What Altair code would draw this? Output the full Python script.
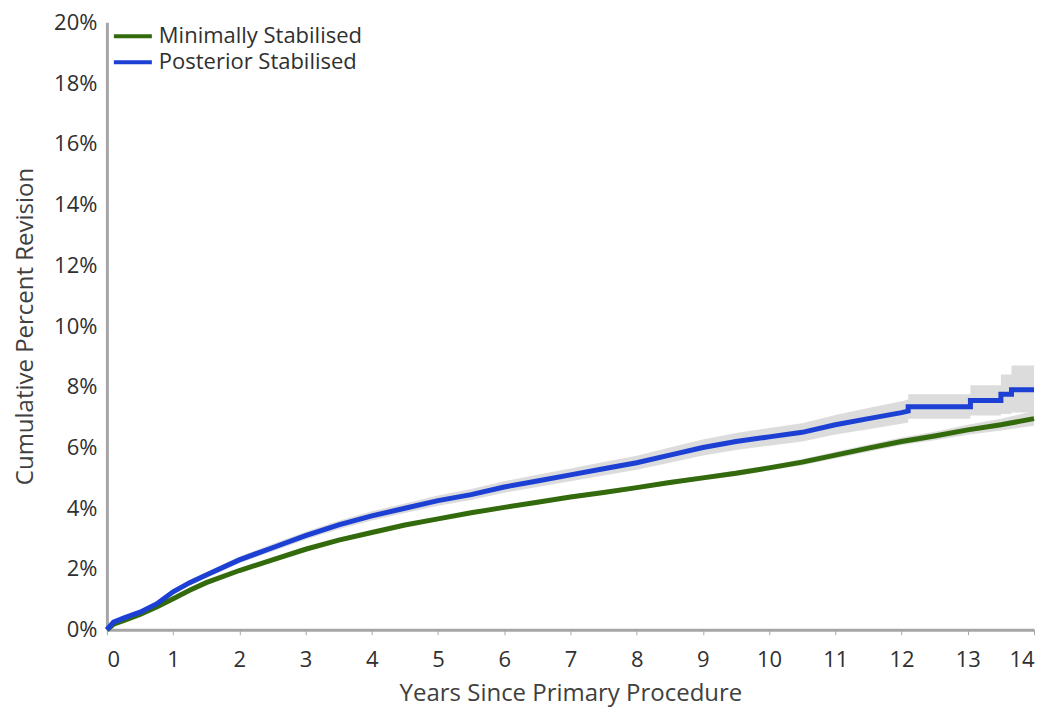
import altair as alt
import pandas as pd

# Years since primary procedure
years_min = [0, 0.1, 0.25, 0.5, 0.75, 1, 1.25, 1.5, 2, 2.5, 3, 3.5, 4, 4.5, 5, 5.5, 6, 6.5, 7,
             7.5, 8, 8.5, 9, 9.5, 10, 10.5, 11, 11.5, 12, 12.5, 13, 13.5, 14]
cpr_min = [0, 0.18, 0.3, 0.5, 0.75, 1.02, 1.3, 1.55, 1.95, 2.3, 2.65, 2.95, 3.2, 3.45, 3.65, 3.85,
           4.03, 4.2, 4.37, 4.52, 4.68, 4.85, 5.0, 5.15, 5.33, 5.52, 5.75, 5.98, 6.2, 6.38, 6.58, 6.75, 6.95]
lo_min = [0, 0.15, 0.26, 0.46, 0.71, 0.97, 1.25, 1.5, 1.9, 2.25, 2.6, 2.9, 3.15, 3.4, 3.6, 3.8,
          3.97, 4.14, 4.31, 4.45, 4.61, 4.77, 4.92, 5.06, 5.24, 5.42, 5.64, 5.86, 6.08, 6.24, 6.42, 6.56, 6.72]
hi_min = [0, 0.21, 0.34, 0.54, 0.79, 1.07, 1.35, 1.6, 2.0, 2.35, 2.7, 3.0, 3.25, 3.5, 3.7, 3.9,
          4.09, 4.26, 4.43, 4.59, 4.75, 4.93, 5.08, 5.24, 5.42, 5.62, 5.86, 6.1, 6.33, 6.52, 6.75, 6.95, 7.2]

years_post = [0, 0.1, 0.25, 0.5, 0.75, 1, 1.25, 1.5, 2, 2.5, 3, 3.5, 4, 4.5, 5, 5.5, 6, 6.5, 7,
              7.5, 8, 8.5, 9, 9.5, 10, 10.5, 11, 11.5, 12, 12.1, 12.1, 13.04, 13.04, 13.5, 13.5,
              13.66, 13.66, 14]
cpr_post = [0, 0.25, 0.38, 0.58, 0.85, 1.25, 1.55, 1.8, 2.3, 2.7, 3.1, 3.45, 3.75, 4.0, 4.25, 4.45,
            4.7, 4.9, 5.1, 5.3, 5.5, 5.75, 6.0, 6.2, 6.35, 6.5, 6.75, 6.95, 7.15, 7.2, 7.34, 7.34,
            7.55, 7.55, 7.75, 7.75, 7.9, 7.9]
lo_post = [0, 0.21, 0.33, 0.52, 0.78, 1.17, 1.46, 1.7, 2.19, 2.58, 2.97, 3.31, 3.6, 3.84, 4.08, 4.27,
           4.51, 4.7, 4.89, 5.08, 5.27, 5.5, 5.74, 5.92, 6.06, 6.2, 6.43, 6.6, 6.78, 6.82, 6.95, 6.95,
           7.05, 7.05, 7.1, 7.1, 7.15, 7.15]
hi_post = [0, 0.29, 0.43, 0.64, 0.92, 1.33, 1.64, 1.9, 2.41, 2.82, 3.23, 3.59, 3.9, 4.16, 4.42, 4.63,
           4.89, 5.1, 5.31, 5.52, 5.73, 6.0, 6.26, 6.48, 6.64, 6.8, 7.07, 7.3, 7.52, 7.58, 7.75, 7.75,
           8.05, 8.05, 8.4, 8.4, 8.7, 8.7]

series = ["Minimally Stabilised", "Posterior Stabilised"]
colors = ["#336a0c", "#1c3fd4"]

rows = []
for s, xs, ys, los, his in [(series[0], years_min, cpr_min, lo_min, hi_min),
                            (series[1], years_post, cpr_post, lo_post, hi_post)]:
    for i, (x, y, lo, hi) in enumerate(zip(xs, ys, los, his)):
        rows.append({"series": s, "years": x, "cpr": y / 100, "lo": lo / 100, "hi": hi / 100, "idx": i})
df = pd.DataFrame(rows)

FONT = "Open Sans"
YTITLE = "Cumulative Percent Revision"

x = alt.X("years:Q", title="Years Since Primary Procedure",
          scale=alt.Scale(domain=[0, 14], nice=False, zero=True),
          axis=alt.Axis(values=list(range(0, 15)), format="d", grid=False,
                        domainColor="#a6a6a6", domainWidth=3, tickColor="#a6a6a6",
                        tickSize=5, tickWidth=1, labelFontSize=22, labelColor="#303030",
                        labelPadding=15, titleFontSize=24, titleFontWeight="normal",
                        titleColor="#404040", titlePadding=11, labelFont=FONT, titleFont=FONT))
y_axis = alt.Axis(values=[i / 100 for i in range(0, 21, 2)], format=".0%", grid=False,
                  domainColor="#a6a6a6", domainWidth=3, ticks=False,
                  labelFontSize=22, labelColor="#303030", labelPadding=10,
                  titleFontSize=24, titleFontWeight="normal", titleColor="#404040",
                  titleX=-69, titleY=304, titleAnchor="middle", labelFont=FONT, titleFont=FONT)
yscale = alt.Scale(domain=[0, 0.2])

base = alt.Chart(df)

band = base.mark_area(color="#d6d6d6", opacity=0.85).encode(
    x=x,
    y=alt.Y("lo:Q", scale=yscale, axis=y_axis, title=YTITLE, stack=None),
    y2=alt.Y2("hi:Q"),
    detail="series:N",
)

lines = base.mark_line(strokeWidth=5).encode(
    x=x,
    y=alt.Y("cpr:Q", scale=yscale, axis=y_axis, title=YTITLE),
    color=alt.Color("series:N", scale=alt.Scale(domain=series, range=colors),
                    legend=alt.Legend(title=None, orient="none", legendX=5, legendY=1,
                                      symbolType="stroke", symbolSize=1444, symbolStrokeWidth=4,
                                      labelFontSize=22, labelColor="#303030", labelFont=FONT,
                                      labelLimit=0, labelOffset=5, rowPadding=0, clipHeight=26,
                                      padding=0)),
    order="idx:Q",
)

chart = alt.layer(band, lines).properties(
    width=928, height=608,
    padding={"left": 99, "top": 14, "right": 10, "bottom": 78},
    autosize=alt.AutoSizeParams(type="none"),
).configure_view(stroke=None)

chart.save("out.html", embed_options={"renderer": "svg", "actions": False})
